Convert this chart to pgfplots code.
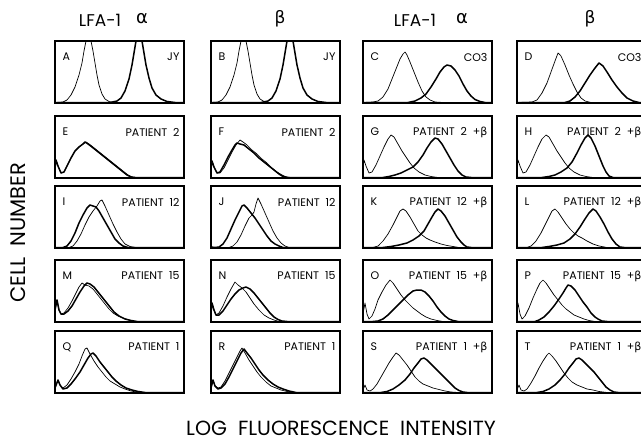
\documentclass[border=0pt]{standalone}
\usepackage{fontspec}
\setmainfont{Poppins}
\newfontfamily\grk{DejaVu Sans}
\usepackage{pgfplots}
\pgfplotsset{compat=1.18}
\pgfplotsset{
  panel/.style={scale only axis, width=129pt, height=62pt,
    xmin=0, xmax=129, ymin=0, ymax=62, xtick=\empty, ytick=\empty,
    axis line style={line width=1.1pt}, anchor=south west, clip=true},
  thincurve/.style={black, line width=0.7pt, line join=round, mark=none},
  thickcurve/.style={black, line width=1.5pt, line join=round, mark=none},
}
\newcommand{\panel}[6]{%
\begin{axis}[panel, at={(#1pt,-#2pt)}]
\addplot[thincurve] coordinates {#5};
\addplot[thickcurve] coordinates {#6};
\node[anchor=west, font=\fontsize{11}{12}\selectfont] at (axis cs:4,46) {#3};
\node[anchor=east, font=\fontsize{11}{12}\selectfont] at (axis cs:128,46) {#4};
\end{axis}}
\begin{document}
\begin{tikzpicture}
\useasboundingbox (0,0) rectangle (641pt,-442pt);
\clip (0,0) rectangle (641pt,-442pt);
\fill[white] (0,0) rectangle (641pt,-442pt);
% headers
\node[font=\fontsize{17}{18}\selectfont] at (100pt,-20pt) {LFA-1};
\node[font=\fontsize{18}{19}\selectfont\grk] at (142pt,-19pt) {α};
\node[font=\fontsize{17}{18}\selectfont\grk] at (280pt,-19pt) {β};
\node[font=\fontsize{17}{18}\selectfont] at (415pt,-20pt) {LFA-1};
\node[font=\fontsize{18}{19}\selectfont\grk] at (462pt,-19pt) {α};
\node[font=\fontsize{17}{18}\selectfont\grk] at (590pt,-19pt) {β};
\node[rotate=90, font=\fontsize{21}{22}\selectfont] at (18pt,-233pt) {CELL\ \ NUMBER};
\node[font=\fontsize{20.5}{22}\selectfont] at (341pt,-428pt) {LOG\ \ FLUORESCENCE\ \ INTENSITY};
% Row 1
\panel{55}{103}{A}{JY}
{(0,0.5)(8,1)(12,3)(16,8)(20,16)(24,28)(27,40)(29,52)(31,62)(36,62)(38,52)(40,40)(42,28)(44,18)(47,9)(50,4)(54,1.5)(58,0.5)(129,0.5)}
{(0,0.5)(55,0.5)(62,2)(66,5)(70,12)(74,24)(77,38)(79,50)(81,62)(87,62)(89,50)(91,38)(94,25)(97,15)(101,8)(106,4)(112,1.5)(120,0.5)(129,0.5)}
\panel{211}{103}{B}{JY}
{(0,0.5)(7,1)(11,3)(15,8)(19,16)(23,28)(26,40)(28,52)(30,62)(35,62)(37,52)(39,40)(41,28)(43,18)(46,9)(49,4)(53,1.5)(57,0.5)(129,0.5)}
{(0,0.5)(50,0.5)(57,2)(61,5)(65,12)(69,24)(72,38)(74,50)(76,62)(82,62)(84,50)(86,38)(89,25)(92,15)(96,8)(101,4)(107,1.5)(115,0.5)(129,0.5)}
\panel{363}{103}{C}{CO3}
{(0,0.5)(10,1)(15,2)(20,6)(25,14)(29,24)(33,34)(37,44)(40,49)(42,51)(44,48)(47,41)(51,31)(55,21)(59,12)(63,6)(67,3)(72,1)(80,0.5)(129,0.5)}
{(0,0.5)(45,0.5)(52,2)(58,5)(63,9)(68,16)(73,24)(77,31)(81,36)(84,38)(88,37)(92,33)(96,27)(100,19)(104,12)(108,7)(112,3.5)(117,1.5)(122,0.5)(129,0.5)}
\panel{517}{103}{D}{CO3}
{(0,0.5)(15,1)(20,3)(25,10)(30,20)(34,31)(38,42)(41,50)(44,47)(48,38)(52,28)(56,19)(60,11)(64,5)(68,2)(74,0.5)(129,0.5)}
{(0,0.5)(48,0.5)(53,2)(58,6)(63,12)(68,20)(73,28)(78,35)(82,40)(86,37)(90,31)(95,23)(100,16)(105,10)(110,5)(116,2)(122,0.5)(129,0.5)}
% Row 2
\panel{55}{178}{E}{PATIENT\ \ 2}
{(0,10)(1,18)(3,12)(6,5)(9,6)(12,12)(16,20)(20,27)(24,31)(28,34)(31,36)(34,34)(38,31)(43,27)(48,23)(53,19)(58,15)(63,11)(68,7)(73,3)(77,1)(81,0.5)(129,0.5)}
{(0,10)(1,18)(3,12)(6,5)(9,6)(12,12)(16,20)(20,27)(24,31)(28,34)(30,36)(33,34)(37,31)(42,27)(47,23)(52,19)(57,15)(62,11)(67,7)(72,3)(76,1)(80,0.5)(129,0.5)}
\panel{211}{178}{F}{PATIENT\ \ 2}
{(0,10)(1,17)(3,11)(6,5)(9,5)(13,10)(17,18)(21,26)(25,33)(29,38)(32,36)(36,33)(41,28)(46,24)(51,19)(56,15)(61,10)(66,6)(71,3)(75,1)(80,0.5)(129,0.5)}
{(0,10)(1,17)(3,11)(6,5)(9,6)(13,13)(17,21)(21,28)(24,33)(26,35)(29,34)(33,33)(38,29)(43,25)(48,20)(53,16)(58,12)(63,8)(68,4)(72,1.5)(77,0.5)(129,0.5)}
\panel{363}{178}{G}{PATIENT\ \ 2\ \ +{\grk β}}
{(0,10)(1,18)(3,12)(6,5)(9,6)(13,13)(17,22)(21,31)(25,39)(28,43)(31,41)(35,34)(39,27)(43,21)(47,15)(51,10)(56,6)(62,3)(68,1.5)(75,0.5)(129,0.5)}
{(0,0.5)(20,0.5)(26,1.5)(32,3)(38,5)(44,8)(50,11)(55,16)(60,23)(64,30)(68,36)(72,40)(75,39)(79,34)(83,27)(87,20)(91,13)(95,7)(99,3)(103,1)(108,0.5)(129,0.5)}
\panel{517}{178}{H}{PATIENT\ \ 2\ \ +{\grk β}}
{(0,10)(1,18)(3,12)(6,5)(9,6)(13,13)(17,22)(21,31)(25,39)(29,43)(32,41)(36,34)(40,27)(44,21)(48,15)(52,10)(57,6)(63,3)(69,1.5)(76,0.5)(129,0.5)}
{(0,0.5)(25,0.5)(32,1.5)(38,3)(44,6)(50,10)(55,16)(60,25)(64,33)(68,40)(71,43)(74,40)(78,32)(82,22)(86,12)(89,6)(92,2)(96,0.5)(129,0.5)}
% Row 3
\panel{55}{248}{I}{PATIENT\ \ 12}
{(0,0.5)(14,0.5)(18,2)(22,7)(26,14)(30,23)(34,31)(38,37)(42,42)(45,47)(47,48)(50,42)(54,33)(58,24)(62,16)(66,9)(70,4)(75,1.5)(81,0.5)(129,0.5)}
{(0,0.5)(8,0.5)(12,2)(16,7)(20,15)(24,25)(28,33)(32,40)(35,43)(38,42)(41,41)(44,37)(48,30)(52,23)(56,16)(60,9)(64,5)(68,2)(73,0.5)(129,0.5)}
\panel{211}{248}{J}{PATIENT\ \ 12}
{(0,0.5)(18,0.5)(22,2)(26,6)(30,13)(34,22)(38,30)(41,33)(43,36)(45,44)(47,50)(50,44)(54,35)(58,26)(62,17)(66,10)(70,5)(74,2)(78,0.5)(129,0.5)}
{(0,1)(4,0.5)(8,1)(12,4)(16,10)(20,19)(24,28)(28,36)(31,42)(33,43)(36,40)(40,35)(44,30)(48,24)(52,18)(56,12)(60,7)(64,4)(68,2)(72,0.5)(129,0.5)}
\panel{363}{248}{K}{PATIENT\ \ 12\ \ +{\grk β}}
{(0,0.5)(10,0.5)(15,2)(20,7)(25,14)(30,23)(34,31)(37,37)(40,39)(43,37)(47,31)(51,24)(55,17)(59,13)(63,10)(67,8)(72,6)(78,4)(84,2.5)(90,1.5)(96,0.5)(129,0.5)}
{(0,0.5)(20,0.5)(28,1.5)(36,3)(44,5)(50,8)(56,12)(61,17)(65,24)(69,31)(72,36)(75,39)(78,37)(82,32)(86,25)(90,18)(94,11)(98,6)(101,3)(104,1)(108,0.5)(129,0.5)}
\panel{517}{248}{L}{PATIENT\ \ 12\ \ +{\grk β}}
{(0,0.5)(10,0.5)(14,2)(19,7)(24,15)(28,23)(32,31)(35,37)(38,39)(41,36)(45,30)(49,24)(53,19)(57,15)(61,12)(65,10)(70,7)(76,4)(82,2)(90,0.5)(129,0.5)}
{(0,0.5)(25,0.5)(32,1.5)(40,3)(47,5)(53,9)(58,14)(63,21)(68,29)(72,35)(76,39)(79,37)(83,31)(87,24)(91,16)(95,9)(99,4)(103,1)(107,0.5)(129,0.5)}
% Row 4
\panel{55}{322}{M}{PATIENT\ \ 15}
{(0,12)(2,22)(4,12)(6,8)(9,9)(13,14)(17,21)(21,29)(24,35)(27,39)(30,37)(34,36)(38,33)(42,28)(46,23)(50,18)(54,13)(58,9)(63,6)(68,4)(74,2)(80,0.5)(129,0.5)}
{(0,12)(2,22)(4,12)(6,8)(9,8)(13,11)(17,16)(21,23)(25,30)(29,36)(32,39)(35,38)(39,35)(43,30)(47,25)(51,20)(55,15)(59,10)(64,6)(70,3)(76,1.5)(82,0.5)(129,0.5)}
\panel{211}{322}{N}{PATIENT\ \ 15}
{(0,10)(1,19)(3,12)(5,7)(8,9)(12,16)(16,25)(20,33)(24,40)(27,37)(31,34)(35,30)(39,24)(43,18)(48,12)(53,7)(58,4)(63,2)(68,0.5)(129,0.5)}
{(0,10)(1,19)(3,12)(5,7)(8,7)(12,11)(16,17)(20,23)(24,28)(28,32)(32,34)(35,35)(39,33)(43,29)(47,24)(51,19)(55,14)(59,9)(63,5)(67,2.5)(71,1)(76,0.5)(129,0.5)}
\panel{363}{322}{O}{PATIENT\ \ 15\ \ +{\grk β}}
{(0,8)(2,19)(4,8)(6,3)(9,6)(12,13)(15,22)(19,30)(23,37)(27,42)(30,39)(34,33)(38,27)(42,22)(46,18)(50,14)(54,11)(58,8)(63,5)(68,3)(74,1.5)(80,0.5)(129,0.5)}
{(0,0.5)(10,0.5)(15,1)(20,3)(25,7)(30,12)(35,17)(40,22)(45,27)(50,31)(54,32)(58,32)(62,30)(66,26)(70,21)(74,15)(78,10)(82,6)(86,3)(90,1.5)(95,0.5)(129,0.5)}
\panel{517}{322}{P}{PATIENT\ \ 15\ \ +{\grk β}}
{(0,8)(1,19)(3,8)(5,3)(8,6)(12,14)(16,24)(20,33)(23,39)(26,42)(29,39)(33,33)(37,27)(41,22)(45,17)(49,13)(53,10)(57,7)(62,5)(67,3)(72,1.5)(78,0.5)(129,0.5)}
{(0,0.5)(18,0.5)(22,2)(27,5)(32,10)(37,16)(42,23)(46,29)(49,34)(51,37)(54,36)(58,32)(62,26)(66,20)(70,15)(74,9)(78,5)(81,3)(85,1)(90,0.5)(129,0.5)}
% Row 5
\panel{55}{393}{Q}{PATIENT\ \ 1}
{(0,5)(3,13)(5,8)(8,5)(12,8)(16,14)(20,21)(24,29)(27,37)(30,44)(32,45)(35,39)(39,32)(43,26)(47,21)(51,16)(55,12)(60,9)(65,6)(70,4)(76,2)(84,0.5)(129,0.5)}
{(0,5)(3,13)(5,8)(8,4)(12,5)(16,9)(20,14)(25,21)(29,28)(33,35)(36,39)(38,40)(41,37)(45,31)(49,26)(53,21)(57,16)(61,12)(66,8)(71,5)(77,3)(83,1.5)(90,0.5)(129,0.5)}
\panel{211}{393}{R}{PATIENT\ \ 1}
{(0,5)(2,13)(4,7)(7,5)(10,6)(14,12)(18,20)(22,28)(26,36)(29,42)(31,45)(34,40)(38,33)(42,27)(46,21)(50,16)(55,11)(60,7)(65,5)(70,3)(76,1.5)(82,0.5)(129,0.5)}
{(0,5)(2,13)(4,7)(7,4)(10,5)(14,9)(18,16)(22,24)(26,32)(30,40)(33,44)(36,40)(40,35)(44,29)(48,23)(52,18)(57,13)(62,9)(67,6)(72,4)(78,2)(85,0.5)(129,0.5)}
\panel{363}{393}{S}{PATIENT\ \ 1\ \ +{\grk β}}
{(0,3)(2,8)(4,3)(7,2)(10,4)(14,9)(18,16)(22,23)(26,30)(30,36)(33,40)(36,38)(40,33)(44,28)(48,22)(52,16)(56,12)(60,9)(65,7)(70,5)(76,3.5)(82,2)(88,1)(95,0.5)(129,0.5)}
{(0,0.5)(18,0.5)(24,1.5)(30,4)(36,8)(42,13)(47,19)(51,25)(55,30)(58,34)(61,35)(64,33)(68,29)(72,25)(76,21)(80,17)(84,13)(88,9)(92,5)(96,2.5)(100,1)(104,0.5)(129,0.5)}
\panel{517}{393}{T}{PATIENT\ \ 1\ \ +{\grk β}}
{(0,3)(2,8)(4,3)(7,2)(10,4)(14,10)(18,17)(22,25)(26,32)(30,38)(32,40)(35,37)(39,32)(43,26)(47,20)(51,15)(55,11)(60,8)(65,6)(70,4)(76,3)(82,1.5)(90,0.5)(129,0.5)}
{(0,0.5)(20,0.5)(26,1.5)(32,4)(38,8)(43,13)(48,19)(52,25)(56,30)(59,34)(62,35)(65,33)(69,29)(73,25)(77,21)(81,16)(85,11)(89,6)(93,3)(97,1)(101,0.5)(129,0.5)}
\end{tikzpicture}
\end{document}
